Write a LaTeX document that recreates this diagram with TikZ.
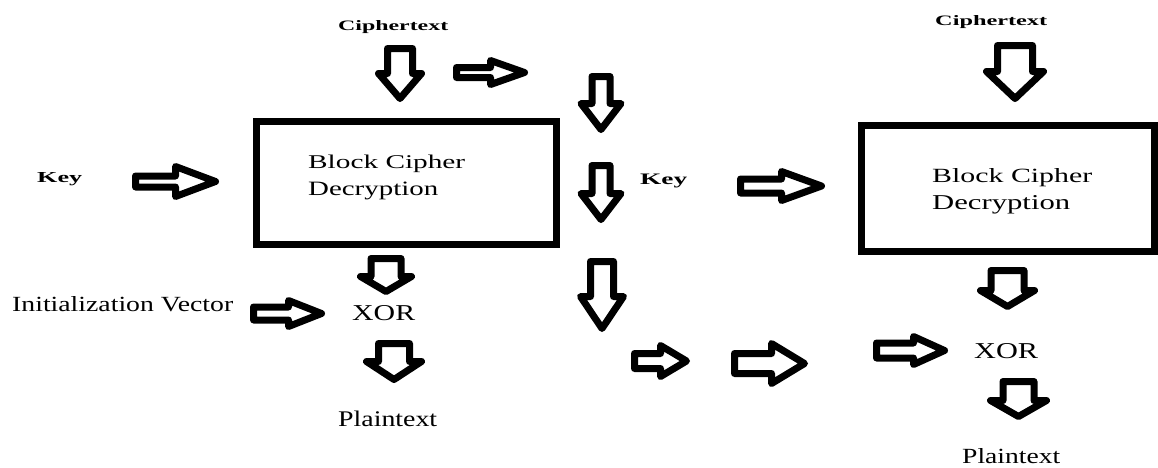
\documentclass[tikz,border=0pt]{standalone}
\usepackage{fontspec}
\setmainfont{Liberation Serif}
\usepackage{graphicx}

\tikzset{
  blockarrow/.style={draw=black, fill=white, line width=7pt, line join=round},
  cipherbox/.style={draw=black, line width=7pt},
  lbl/.style={inner sep=0pt, anchor=base west, text=black},
}

% Hollow block arrow pointing down:
% {centre x}{outer top}{outer tip}{shaft width}{head width}{shoulder y}
\newcommand\DArr[6]{%
  \draw[blockarrow]
    ({#1-(#4-7)/2},{#2+3.5}) -- ({#1+(#4-7)/2},{#2+3.5})
    -- ({#1+(#4-7)/2},{#6+3.5}) -- ({#1+(#5-7)/2},{#6+3.5})
    -- (#1,{#3-3.5})
    -- ({#1-(#5-7)/2},{#6+3.5}) -- ({#1-(#4-7)/2},{#6+3.5}) -- cycle;}

% Hollow block arrow pointing right:
% {outer left}{outer tip}{centre y}{shaft height}{head height}{shoulder x}
\newcommand\RArr[6]{%
  \draw[blockarrow]
    ({#1+3.5},{#3-(#4-7)/2}) -- ({#6+3.5},{#3-(#4-7)/2})
    -- ({#6+3.5},{#3-(#5-7)/2}) -- ({#2-3.5},#3)
    -- ({#6+3.5},{#3+(#5-7)/2}) -- ({#6+3.5},{#3+(#4-7)/2})
    -- ({#1+3.5},{#3+(#4-7)/2}) -- cycle;}

% Label set to a given width and cap height
\newcommand\fitlbl[3]{\resizebox{#1pt}{#2pt}{#3}}

\begin{document}
\begin{tikzpicture}[x=1pt, y=-1pt]
  \useasboundingbox (0,0) rectangle (1158,467);

  % ---- first decryption block ----
  \draw[cipherbox] (256.5,121.5) rectangle (556.5,244.5);
  \node[lbl] (ctA)  at (338,30)    {\fitlbl{110}{10}{\bfseries Ciphertext}};
  \node[lbl] (keyA) at (37,182)    {\fitlbl{45}{10}{\bfseries Key}};
  \node[lbl] (bcA)  at (308,168.5) {\fitlbl{157}{13.5}{Block Cipher}};
  \node[lbl] (dcA)  at (308,195.5) {\fitlbl{130}{13.5}{Decryption}};
  \node[lbl] (iv)   at (12,311)    {\fitlbl{221}{15}{Initialization Vector}};
  \node[lbl] (xorA) at (352,320)   {\fitlbl{63}{15}{XOR}};
  \node[lbl] (ptA)  at (338,426)   {\fitlbl{99}{15.5}{Plaintext}};

  \DArr{400}{45}{102}{32}{50}{70}
  \RArr{453}{528}{72.5}{17}{31}{487}
  \RArr{132}{219}{181.5}{18}{37}{172}
  \DArr{386}{255}{295}{37}{58}{273}
  \RArr{250}{325}{313.5}{20}{33}{285}
  \DArr{394}{340}{383}{38}{62}{358}

  % ---- chaining column ----
  \DArr{601}{73}{133}{25}{47}{100}
  \DArr{601}{162}{223}{25}{47}{190}
  \DArr{602}{258}{332}{30}{50}{293}
  \RArr{631}{690}{361}{22}{38}{657}
  \RArr{731}{808}{363.5}{27}{47}{768}
  \node[lbl] (keyB) at (640,184.5) {\fitlbl{47}{10.5}{\bfseries Key}};
  \RArr{737}{825}{186}{21}{36}{778}

  % ---- second decryption block ----
  \draw[cipherbox] (861.5,125.5) rectangle (1154.5,251.5);
  \node[lbl] (ctB)  at (935,25)    {\fitlbl{112}{10}{\bfseries Ciphertext}};
  \node[lbl] (bcB)  at (932,182.5) {\fitlbl{160}{14}{Block Cipher}};
  \node[lbl] (dcB)  at (932,209.5) {\fitlbl{138}{14}{Decryption}};
  \node[lbl] (xorB) at (974,358)   {\fitlbl{64}{15}{XOR}};
  \node[lbl] (ptB)  at (962,463)   {\fitlbl{98}{15}{Plaintext}};

  \DArr{1015}{42}{102}{42}{64}{68}
  \DArr{1007.5}{267}{310}{40}{61}{287}
  \RArr{873}{948}{350.5}{22}{35}{910}
  \DArr{1018.5}{378}{420}{38}{63}{397}
\end{tikzpicture}
\end{document}
